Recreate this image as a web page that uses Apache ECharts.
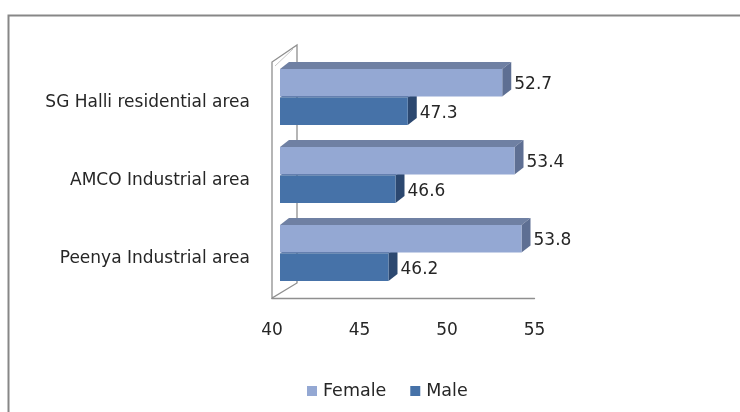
<!DOCTYPE html>
<html>
<head>
<meta charset="utf-8">
<script src="https://cdn.jsdelivr.net/npm/echarts@6/dist/echarts.min.js"></script>
<style>
  html, body { margin: 0; padding: 0; background: #ffffff; }
  #chart { width: 740px; height: 412px; }
</style>
</head>
<body>
<div id="chart"></div>
<script>
// Sex ratio by sampling area (percent)
const categories = ['Peenya Industrial area', 'AMCO Industrial area', 'SG Halli residential area'];
const femaleValues = [53.8, 53.4, 52.7];
const maleValues = [46.2, 46.6, 47.3];
const seriesNames = ['Female', 'Male'];
const axisMin = 40;
const axisMax = 55;
const axisStep = 5;

const FONT = 'DejaVu Sans';
const TEXT_COLOR = '#262626';
const FRAME_COLOR = '#8f8f8f';

// pseudo-3D geometry (pixels)
const BAR_SHIFT_X = 8, BAR_SHIFT_Y = -6;   // bars sit a little behind the front plane
const BEVEL_X = 9, BEVEL_Y = -7;           // bar top / side face depth
const BAR_H = 27.5, BAR_GAP = 1;
const WALL_DX = 25, WALL_DY = -16;         // side wall depth

const palette = {
  Female: { front: '#94a8d3', top: '#6f80a3', side: '#5e6f93' },
  Male:   { front: '#4672a8', top: '#34578a', side: '#2c4870' }
};

function toData(values) {
  return values.map((v, i) => [v, i]);
}

function barRenderer(name, slot) {
  const c = palette[name];
  return function (params, api) {
    const cat = api.value(1);
    const val = api.value(0);
    const start = api.coord([axisMin, cat]);
    const end = api.coord([val, cat]);
    const x0 = start[0] + BAR_SHIFT_X;
    const x1 = end[0] + BAR_SHIFT_X;
    const cy = start[1] + BAR_SHIFT_Y;
    const y0 = slot === 0 ? cy - BAR_H - BAR_GAP / 2 : cy + BAR_GAP / 2;
    const y1 = y0 + BAR_H;
    return {
      type: 'group',
      children: [
        { // top face
          type: 'polygon',
          shape: { points: [[x0, y0], [x0 + BEVEL_X, y0 + BEVEL_Y], [x1 + BEVEL_X, y0 + BEVEL_Y], [x1, y0]] },
          style: { fill: c.top }
        },
        { // right-hand face
          type: 'polygon',
          shape: { points: [[x1, y0], [x1 + BEVEL_X, y0 + BEVEL_Y], [x1 + BEVEL_X, y1 + BEVEL_Y], [x1, y1]] },
          style: { fill: c.side }
        },
        { // front face
          type: 'rect',
          shape: { x: x0, y: y0, width: x1 - x0, height: y1 - y0 },
          style: { fill: c.front }
        },
        { // value label
          type: 'text',
          style: {
            x: x1 + BEVEL_X + 3,
            y: (y0 + y1) / 2 + 2,
            text: val.toFixed(1),
            font: '17px "' + FONT + '"',
            fill: TEXT_COLOR,
            verticalAlign: 'middle',
            align: 'left'
          }
        }
      ]
    };
  };
}

function wallRenderer(params, api) {
  const bottom = api.coord([axisMin, 0]);
  const top = api.coord([axisMin, categories.length - 1]);
  const band = api.size([0, 1])[1];
  const x = bottom[0];
  const yb = bottom[1] + band / 2;
  const yt = top[1] - band / 2 - 2;
  return {
    type: 'group',
    children: [
      {
        type: 'polygon',
        shape: { points: [[x, yb], [x, yt], [x + WALL_DX, yt + WALL_DY - 1], [x + WALL_DX, yb + WALL_DY + 1]] },
        style: { fill: '#ffffff', stroke: FRAME_COLOR, lineWidth: 1.3 }
      },
      {
        type: 'polyline',
        shape: { points: [[x + 3, yt + 4], [x + WALL_DX - 4, yt + WALL_DY + 3]] },
        style: { stroke: '#c8c8c8', lineWidth: 1, fill: null }
      }
    ]
  };
}

const chart = echarts.init(document.getElementById('chart'), null, { renderer: 'canvas' });

chart.setOption({
  animation: false,
  backgroundColor: '#ffffff',
  textStyle: { fontFamily: FONT },
  graphic: [{
    type: 'rect',
    shape: { x: 8.5, y: 15.5, width: 900, height: 600 },
    style: { fill: null, stroke: '#878787', lineWidth: 2 },
    z: 0
  }],
  grid: { left: 272, right: 205.5, top: 64, bottom: 114 },
  xAxis: {
    type: 'value',
    min: axisMin,
    max: axisMax,
    interval: axisStep,
    axisLine: { show: true, lineStyle: { color: FRAME_COLOR, width: 1.3 } },
    axisTick: { show: false },
    splitLine: { show: false },
    axisLabel: { fontFamily: FONT, fontSize: 17, color: TEXT_COLOR, margin: 24 }
  },
  yAxis: {
    type: 'category',
    data: categories,
    axisLine: { show: false },
    axisTick: { show: false },
    splitLine: { show: false },
    axisLabel: { fontFamily: FONT, fontSize: 17, color: TEXT_COLOR, margin: 22 }
  },
  legend: {
    data: seriesNames,
    left: 307,
    top: 382,
    padding: 0,
    icon: 'rect',
    itemWidth: 10,
    itemHeight: 10,
    itemGap: 24,
    textStyle: { fontFamily: FONT, fontSize: 17.5, color: TEXT_COLOR, padding: [0, 0, 0, 1] }
  },
  series: [
    {
      type: 'custom',
      name: 'wall',
      data: [[axisMin, 0]],
      encode: { x: 0, y: 1 },
      renderItem: wallRenderer,
      clip: false,
      silent: true,
      z: 1
    },
    {
      type: 'custom',
      name: 'Male',
      data: toData(maleValues),
      encode: { x: 0, y: 1 },
      itemStyle: { color: palette.Male.front },
      renderItem: barRenderer('Male', 1),
      clip: false,
      z: 2
    },
    {
      type: 'custom',
      name: 'Female',
      data: toData(femaleValues),
      encode: { x: 0, y: 1 },
      itemStyle: { color: palette.Female.front },
      renderItem: barRenderer('Female', 0),
      clip: false,
      z: 3
    }
  ]
});
</script>
</body>
</html>
